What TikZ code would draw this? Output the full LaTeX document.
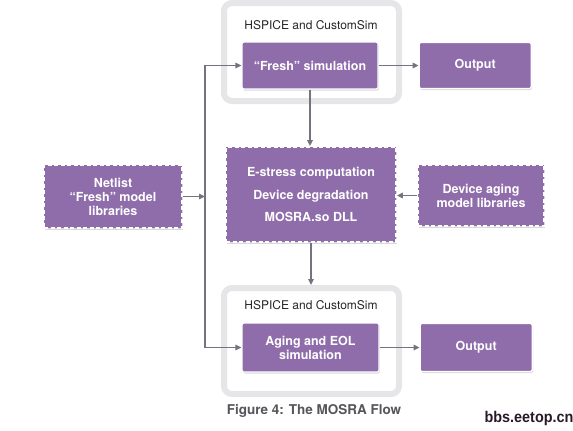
\documentclass[tikz,border=0pt]{standalone}
\usepackage{fontspec}
\setmainfont{TeX Gyre Heros}
\newfontfamily\wmfont[FakeStretch=0.93]{Liberation Sans}
\usetikzlibrary{arrows.meta,positioning,shadows}

\definecolor{mosra}{RGB}{143,108,170}
\definecolor{wire}{RGB}{116,116,126}
\definecolor{frame}{RGB}{230,230,232}
\definecolor{capgray}{RGB}{85,85,90}

\begin{document}
\begin{tikzpicture}[
    x=1pt, y=-1pt,
    node distance=40pt,
    simbox/.style={draw=frame, line width=6pt, fill=white, rounded corners=8pt, inner sep=0pt},
    simtitle/.style={font=\fontsize{12}{14}\selectfont, text=black!85},
    block/.style={draw=white, line width=1.2pt, fill=mosra, rounded corners=2pt, inner sep=2pt,
                  text=white, align=center, font=\bfseries\fontsize{12.5}{14}\selectfont,
                  drop shadow={opacity=0.3, shadow xshift=0.8pt, shadow yshift=-1.5pt}},
    dblock/.style={block, dash pattern=on 4pt off 2.5pt, line width=1.8pt, rounded corners=0pt},
    line/.style={-{Triangle[length=6pt,width=5.5pt]}, line width=1.4pt, draw=wire}
]
\useasboundingbox (0,0) rectangle (573,431);

\node[simbox, minimum width=175pt, minimum height=98pt]  (freshsim) at (311.5,52)  {};
\node[simbox, minimum width=175pt, minimum height=106pt] (agingsim) at (311.5,341) {};
\node[simtitle] (freshtitle) at (311,25)  {HSPICE and CustomSim};
\node[simtitle] (agingtitle) at (311,305) {HSPICE and CustomSim};

\node[block, minimum width=136pt, minimum height=47pt] (fresh) at (310,65.5)  {``Fresh'' simulation};
\node[block, minimum width=137pt, minimum height=49pt] (aging) at (310.5,347.5) {Aging and EOL\\simulation};
\node[block, right=40pt of fresh, minimum width=112pt, minimum height=46pt] (out1) {Output};
\node[block, right=40pt of aging, minimum width=112pt, minimum height=48pt] (out2) {Output};

\node[dblock, minimum width=170pt, minimum height=95pt, font=\bfseries\fontsize{12.5}{22.5}\selectfont]
     (stress) at (311,194.5) {E-stress computation\\Device degradation\\MOSRA.so DLL};
\node[dblock, minimum width=138pt, minimum height=63pt] (netlist) at (113,196.5) {Netlist\\``Fresh'' model\\libraries};
\node[dblock, minimum width=126pt, minimum height=61pt] (device)  at (481,195.5) {Device aging\\model libraries};

\coordinate (spine) at (205,196.5);

\draw[line] (netlist) -- (spine);
\draw[line] (spine) |- (fresh);
\draw[line] (spine) |- (aging);
\draw[line] (fresh) -- (out1);
\draw[line] (aging) -- (out2);
\draw[line] (fresh.south) -- (fresh.south |- stress.north);
\draw[line] (stress.south) -- (stress.south |- agingsim.north);
\draw[line] (device.west) -- (device.west -| stress.east);

\node[font=\bfseries\fontsize{13.5}{15}\selectfont, text=capgray] (caption) at (314,411) {Figure 4: The MOSRA Flow};
\node[font=\wmfont\bfseries\fontsize{15.5}{17}\selectfont, text={rgb,255:red,40;green,25;blue,40}] (mark) at (529,418) {bbs.eetop.cn};
\end{tikzpicture}
\end{document}
